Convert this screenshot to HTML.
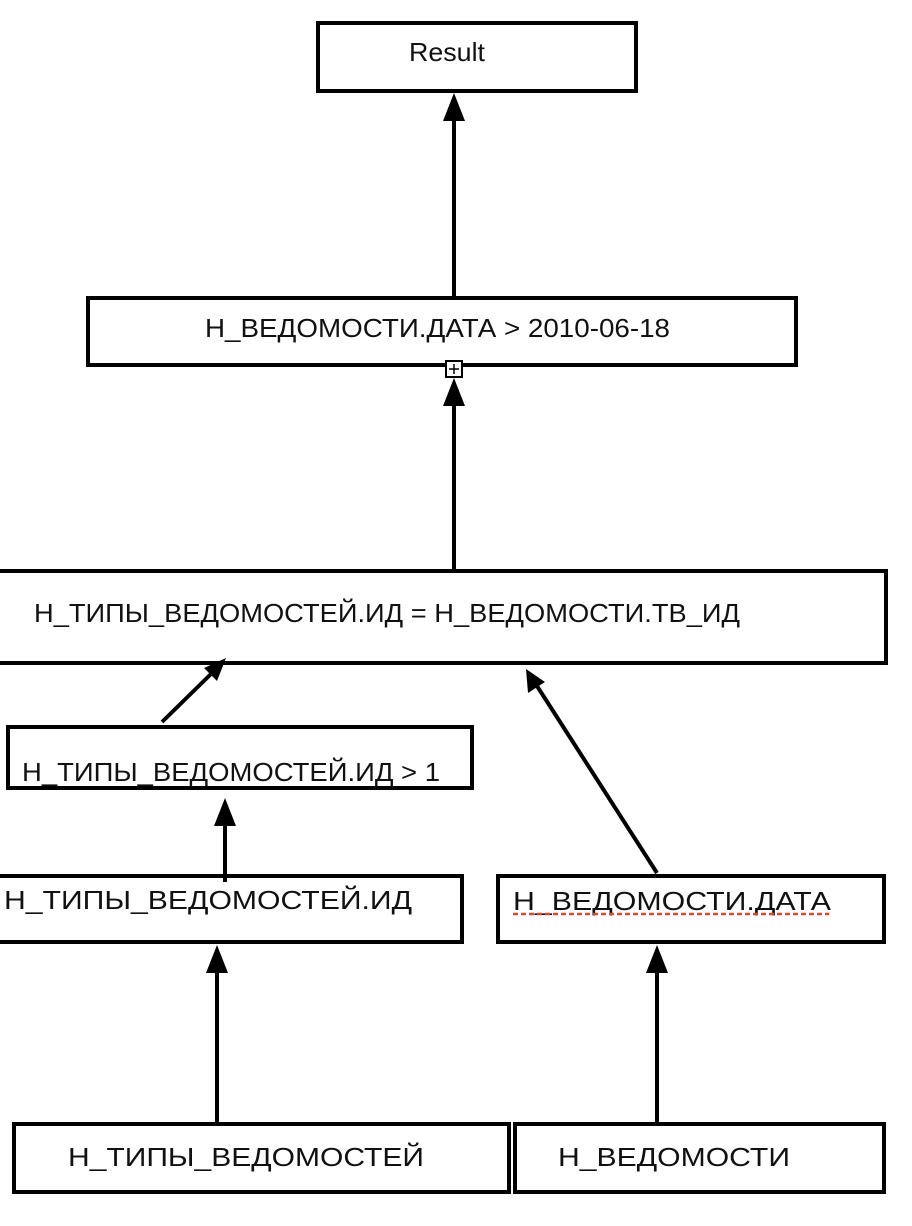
<!DOCTYPE html>
<html><head><meta charset="utf-8"><style>
html,body{margin:0;padding:0;background:#fff;}
svg{display:block;}
text{font-family:"Liberation Sans","DejaVu Sans",sans-serif;font-size:26px;fill:#111;}
</style></head><body>
<svg width="912" height="1226" viewBox="0 0 912 1226">
<g fill="none" stroke="#000" stroke-width="4">
<rect x="318" y="23" width="318" height="68"/>
<rect x="88" y="298" width="708" height="67"/>
<rect x="-4" y="571" width="890" height="92"/>
<rect x="8" y="727" width="464" height="61"/>
<rect x="-4" y="876" width="466" height="66"/>
<rect x="498" y="876" width="386" height="66"/>
<rect x="14" y="1124" width="495" height="68"/>
<rect x="515" y="1124" width="369" height="68"/>
</g>
<rect x="446" y="361" width="16" height="16" fill="#fff" stroke="#000" stroke-width="2"/>
<path d="M449 369h10M454 364v10" stroke="#000" stroke-width="1.5"/>
<g stroke="#000" stroke-width="4">
<line x1="454" y1="296" x2="454" y2="115"/>
<line x1="454" y1="569" x2="454" y2="400"/>
<line x1="162" y1="722" x2="212" y2="673"/>
<line x1="657" y1="873" x2="537" y2="686"/>
<line x1="225" y1="882" x2="225" y2="820"/>
<line x1="217" y1="1122" x2="217" y2="967"/>
<line x1="657" y1="1122" x2="657" y2="967"/>
</g>
<g fill="#000">
<polygon points="454,93 443,121 465,121"/>
<polygon points="454,378 443,406 465,406"/>
<polygon points="226,658 204,668 217,681"/>
<polygon points="526,669 528,693 545,682"/>
<polygon points="225,798 214,826 236,826"/>
<polygon points="217,945 206,973 228,973"/>
<polygon points="657,945 646,973 668,973"/>
</g>
<g lengthAdjust="spacingAndGlyphs">
<text x="409" y="61" textLength="76" lengthAdjust="spacingAndGlyphs">Result</text>
<text x="205" y="337" textLength="465" lengthAdjust="spacingAndGlyphs">Н_ВЕДОМОСТИ.ДАТА &gt; 2010-06-18</text>
<text x="34" y="622" textLength="706" lengthAdjust="spacingAndGlyphs">Н_ТИПЫ_ВЕДОМОСТЕЙ.ИД = Н_ВЕДОМОСТИ.ТВ_ИД</text>
<text x="22" y="781" textLength="418" lengthAdjust="spacingAndGlyphs">Н_ТИПЫ_ВЕДОМОСТЕЙ.ИД  &gt; 1</text>
<text x="4" y="909" textLength="408" lengthAdjust="spacingAndGlyphs">Н_ТИПЫ_ВЕДОМОСТЕЙ.ИД</text>
<text x="513" y="910" textLength="318" lengthAdjust="spacingAndGlyphs">Н_ВЕДОМОСТИ.ДАТА</text>
<text x="68" y="1166" textLength="356" lengthAdjust="spacingAndGlyphs">Н_ТИПЫ_ВЕДОМОСТЕЙ</text>
<text x="558" y="1166" textLength="232" lengthAdjust="spacingAndGlyphs">Н_ВЕДОМОСТИ</text>
</g>
<line x1="513" y1="914" x2="829" y2="914" stroke="#e8402a" stroke-width="2.5" stroke-dasharray="5,3"/>
</svg>
</body></html>
